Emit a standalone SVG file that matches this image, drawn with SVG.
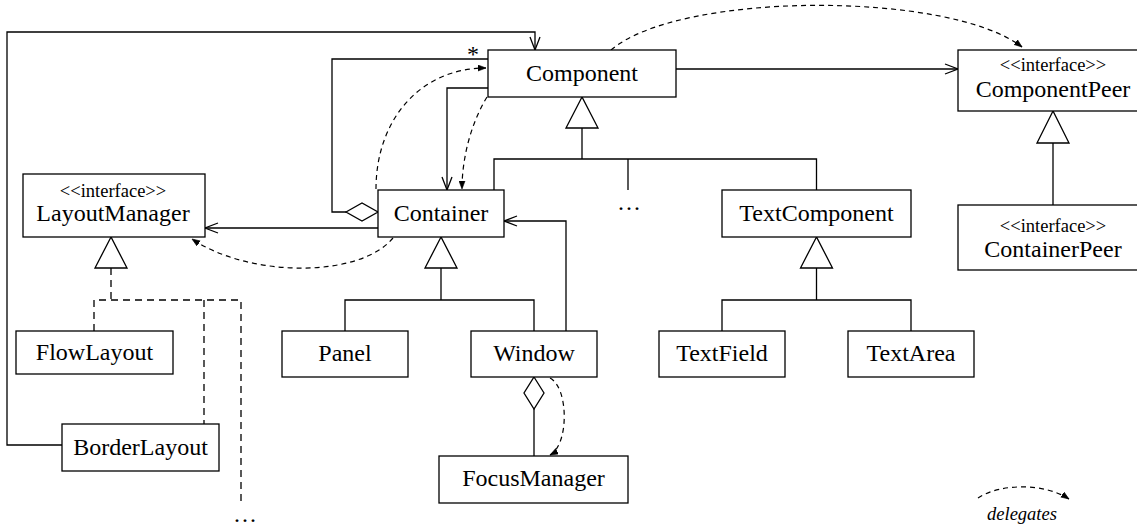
<svg xmlns="http://www.w3.org/2000/svg" width="1137" height="529" viewBox="0 0 1137 529">
<style>
.box{fill:#fff;stroke:#000;stroke-width:1.3}
.t{font-family:"Liberation Serif","Times New Roman",serif;font-size:24px;fill:#000;text-anchor:middle}
.s{font-family:"Liberation Serif","Times New Roman",serif;font-size:18.5px;fill:#000;text-anchor:middle}
.ln{fill:none;stroke:#000;stroke-width:1.3}
.dl{fill:none;stroke:#000;stroke-width:1.3;stroke-dasharray:7 5}
.dg{fill:none;stroke:#000;stroke-width:1.2;stroke-dasharray:5 4}
.tri{fill:#fff;stroke:#000;stroke-width:1.3}
</style>
<defs>
<marker id="open" markerUnits="userSpaceOnUse" markerWidth="16" markerHeight="12" refX="14" refY="6" orient="auto" viewBox="0 0 16 12">
<path d="M1,1 L14,6 L1,11" fill="none" stroke="#000" stroke-width="1.3"/>
</marker>
<marker id="small" markerUnits="userSpaceOnUse" markerWidth="9" markerHeight="7" refX="8" refY="3.5" orient="auto" viewBox="0 0 9 7">
<path d="M0,0.5 L8,3.5 L0,6.5 z" fill="#000" stroke="#000" stroke-width="0.6"/>
</marker>
</defs>

<g id="connectors">
<!-- generalization to Component -->
<path class="ln" d="M582 128 V159"/>
<path class="ln" d="M494 190 V159 H816.5 V190"/>
<path class="ln" d="M628 159 V190"/>
<polygon class="tri" points="582,97 566,128 598,128"/>
<!-- generalization to Container -->
<path class="ln" d="M441 268 V300"/>
<path class="ln" d="M345 331 V300 H534 V331"/>
<polygon class="tri" points="441,237 425,268 457,268"/>
<!-- generalization to TextComponent -->
<path class="ln" d="M816.5 268 V300"/>
<path class="ln" d="M722 331 V300 H911 V331"/>
<polygon class="tri" points="816.5,237 800.5,268 832.5,268"/>
<!-- ComponentPeer <- ContainerPeer -->
<path class="ln" d="M1053 143 V205"/>
<polygon class="tri" points="1053,111 1037,143 1069,143"/>
<!-- LayoutManager realizations -->
<path class="dl" d="M111 268 V300"/>
<path class="dl" d="M94 331 V300 H241 V502"/>
<path class="dl" d="M204 300 V424"/>
<polygon class="tri" points="111,237 95,268 127,268"/>
<!-- associations -->
<path class="ln" d="M676 69 H958" marker-end="url(#open)"/>
<path class="ln" d="M62 445 H7 V32 H535 V50" marker-end="url(#open)"/>
<path class="ln" d="M488 59 H332 V212 H346"/>
<polygon class="tri" points="346,212 362,203 378,212 362,221"/>
<path class="ln" d="M488 88 H447 V190" marker-end="url(#open)"/>
<path class="ln" d="M566 331 V221 H504" marker-end="url(#open)"/>
<path class="ln" d="M378 228 H205" marker-end="url(#open)"/>
<path class="ln" d="M534 409 V456"/>
<polygon class="tri" points="534,377 544,393 534,409 524,393"/>
<!-- delegation -->
<path class="dg" d="M376 189 C376 120 420 68 486 68" marker-end="url(#small)"/>
<path class="dg" d="M487 97 C470 125 462 160 462 189" marker-end="url(#small)"/>
<path class="dg" d="M393 238 C360 278 250 278 192 239" marker-end="url(#small)"/>
<path class="dg" d="M550 378 C569 388 569 445 550 455" marker-end="url(#small)"/>
<path class="dg" d="M611 50 C680 -9 950 -9 1022 47" marker-end="url(#small)"/>
</g>

<g id="Component"><rect class="box" x="488" y="50" width="188" height="47"/><text class="t" x="582" y="81">Component</text></g>
<text class="t" x="473" y="62">*</text>
<g id="ComponentPeer"><rect class="box" x="958" y="50" width="190" height="61"/><text class="s" x="1053" y="71">&lt;&lt;interface&gt;&gt;</text><text class="t" x="1053" y="97">ComponentPeer</text></g>
<g id="ContainerPeer"><rect class="box" x="958" y="205" width="190" height="65"/><text class="s" x="1053" y="232">&lt;&lt;interface&gt;&gt;</text><text class="t" x="1053" y="257">ContainerPeer</text></g>
<g id="LayoutManager"><rect class="box" x="23" y="174" width="182" height="63"/><text class="s" x="113" y="197">&lt;&lt;interface&gt;&gt;</text><text class="t" x="113" y="221">LayoutManager</text></g>
<g id="Container"><rect class="box" x="378" y="190" width="126" height="47"/><text class="t" x="441" y="221">Container</text></g>
<g id="TextComponent"><rect class="box" x="722" y="190" width="189" height="47"/><text class="t" x="816.5" y="221">TextComponent</text></g>
<g id="more-components"><text class="t" x="630" y="210" letter-spacing="2">...</text></g>
<g id="FlowLayout"><rect class="box" x="16" y="331" width="157" height="43"/><text class="t" x="94.5" y="360">FlowLayout</text></g>
<g id="BorderLayout"><rect class="box" x="62" y="424" width="157" height="47"/><text class="t" x="140.5" y="455">BorderLayout</text></g>
<g id="more-layouts"><text class="t" x="246" y="522" letter-spacing="2">...</text></g>
<g id="Panel"><rect class="box" x="282" y="331" width="126" height="46"/><text class="t" x="345" y="361">Panel</text></g>
<g id="Window"><rect class="box" x="471" y="331" width="126" height="46"/><text class="t" x="534" y="361">Window</text></g>
<g id="TextField"><rect class="box" x="659" y="331" width="126" height="46"/><text class="t" x="722" y="361">TextField</text></g>
<g id="TextArea"><rect class="box" x="848" y="331" width="126" height="46"/><text class="t" x="911" y="361">TextArea</text></g>
<g id="FocusManager"><rect class="box" x="439" y="456" width="189" height="47"/><text class="t" x="533.5" y="486">FocusManager</text></g>
<g id="legend">
<path class="dg" d="M978 498 C1000 483 1045 483 1069 499" marker-end="url(#small)"/>
<text class="s" x="1022" y="520" font-style="italic" font-size="18">delegates</text>
</g>
</svg>
